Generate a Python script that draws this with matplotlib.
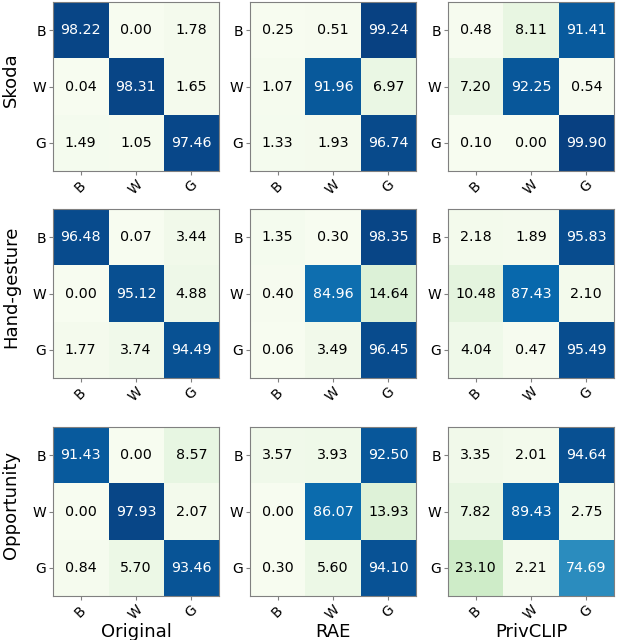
import numpy as np
import matplotlib
matplotlib.use('Agg')
import matplotlib.pyplot as plt

plt.rcParams['font.family'] = ['DejaVu Sans']

labels = ['B', 'W', 'G']
datasets = ['Skoda', 'Hand-gesture', 'Opportunity']
methods = ['Original', 'RAE', 'PrivCLIP']

skoda_original = [[98.22, 0.00, 1.78], [0.04, 98.31, 1.65], [1.49, 1.05, 97.46]]
skoda_rae = [[0.25, 0.51, 99.24], [1.07, 91.96, 6.97], [1.33, 1.93, 96.74]]
skoda_privclip = [[0.48, 8.11, 91.41], [7.20, 92.25, 0.54], [0.10, 0.00, 99.90]]
hand_original = [[96.48, 0.07, 3.44], [0.00, 95.12, 4.88], [1.77, 3.74, 94.49]]
hand_rae = [[1.35, 0.30, 98.35], [0.40, 84.96, 14.64], [0.06, 3.49, 96.45]]
hand_privclip = [[2.18, 1.89, 95.83], [10.48, 87.43, 2.10], [4.04, 0.47, 95.49]]
opp_original = [[91.43, 0.00, 8.57], [0.00, 97.93, 2.07], [0.84, 5.70, 93.46]]
opp_rae = [[3.57, 3.93, 92.50], [0.00, 86.07, 13.93], [0.30, 5.60, 94.10]]
opp_privclip = [[3.35, 2.01, 94.64], [7.82, 89.43, 2.75], [23.10, 2.21, 74.69]]

matrices = [[skoda_original, skoda_rae, skoda_privclip],
            [hand_original, hand_rae, hand_privclip],
            [opp_original, opp_rae, opp_privclip]]

W, H = 620, 640
fig = plt.figure(figsize=(W / 100, H / 100), dpi=100)

lefts = [53, 250, 448]
tops = [2, 209, 427]
aw, ah = 166, 169

for r in range(3):
    for c in range(3):
        m = np.array(matrices[r][c])
        ax = fig.add_axes([lefts[c] / W, 1 - (tops[r] + ah) / H, aw / W, ah / H])
        ax.imshow(m, cmap='GnBu', vmin=0, vmax=100, aspect='auto')
        for i in range(3):
            for j in range(3):
                col = 'white' if m[i, j] > 50 else 'black'
                ax.text(j, i, '%.2f' % m[i, j], ha='center', va='center',
                        color=col, fontsize=10.3)
        ax.set_xticks(range(3))
        ax.set_yticks(range(3))
        ax.set_xticklabels(labels, rotation=45, fontsize=10)
        ax.set_yticklabels(labels, fontsize=10)
        for s in ax.spines.values():
            s.set_color('gray')
        ax.tick_params(color='gray', length=3, pad=2)
        if c == 0:
            ax.set_ylabel(datasets[r], fontsize=13, labelpad=9, y=0.54)
        if r == 2:
            ax.set_xlabel(methods[c], fontsize=13, labelpad=0)

fig.savefig('out.png', dpi=100)
